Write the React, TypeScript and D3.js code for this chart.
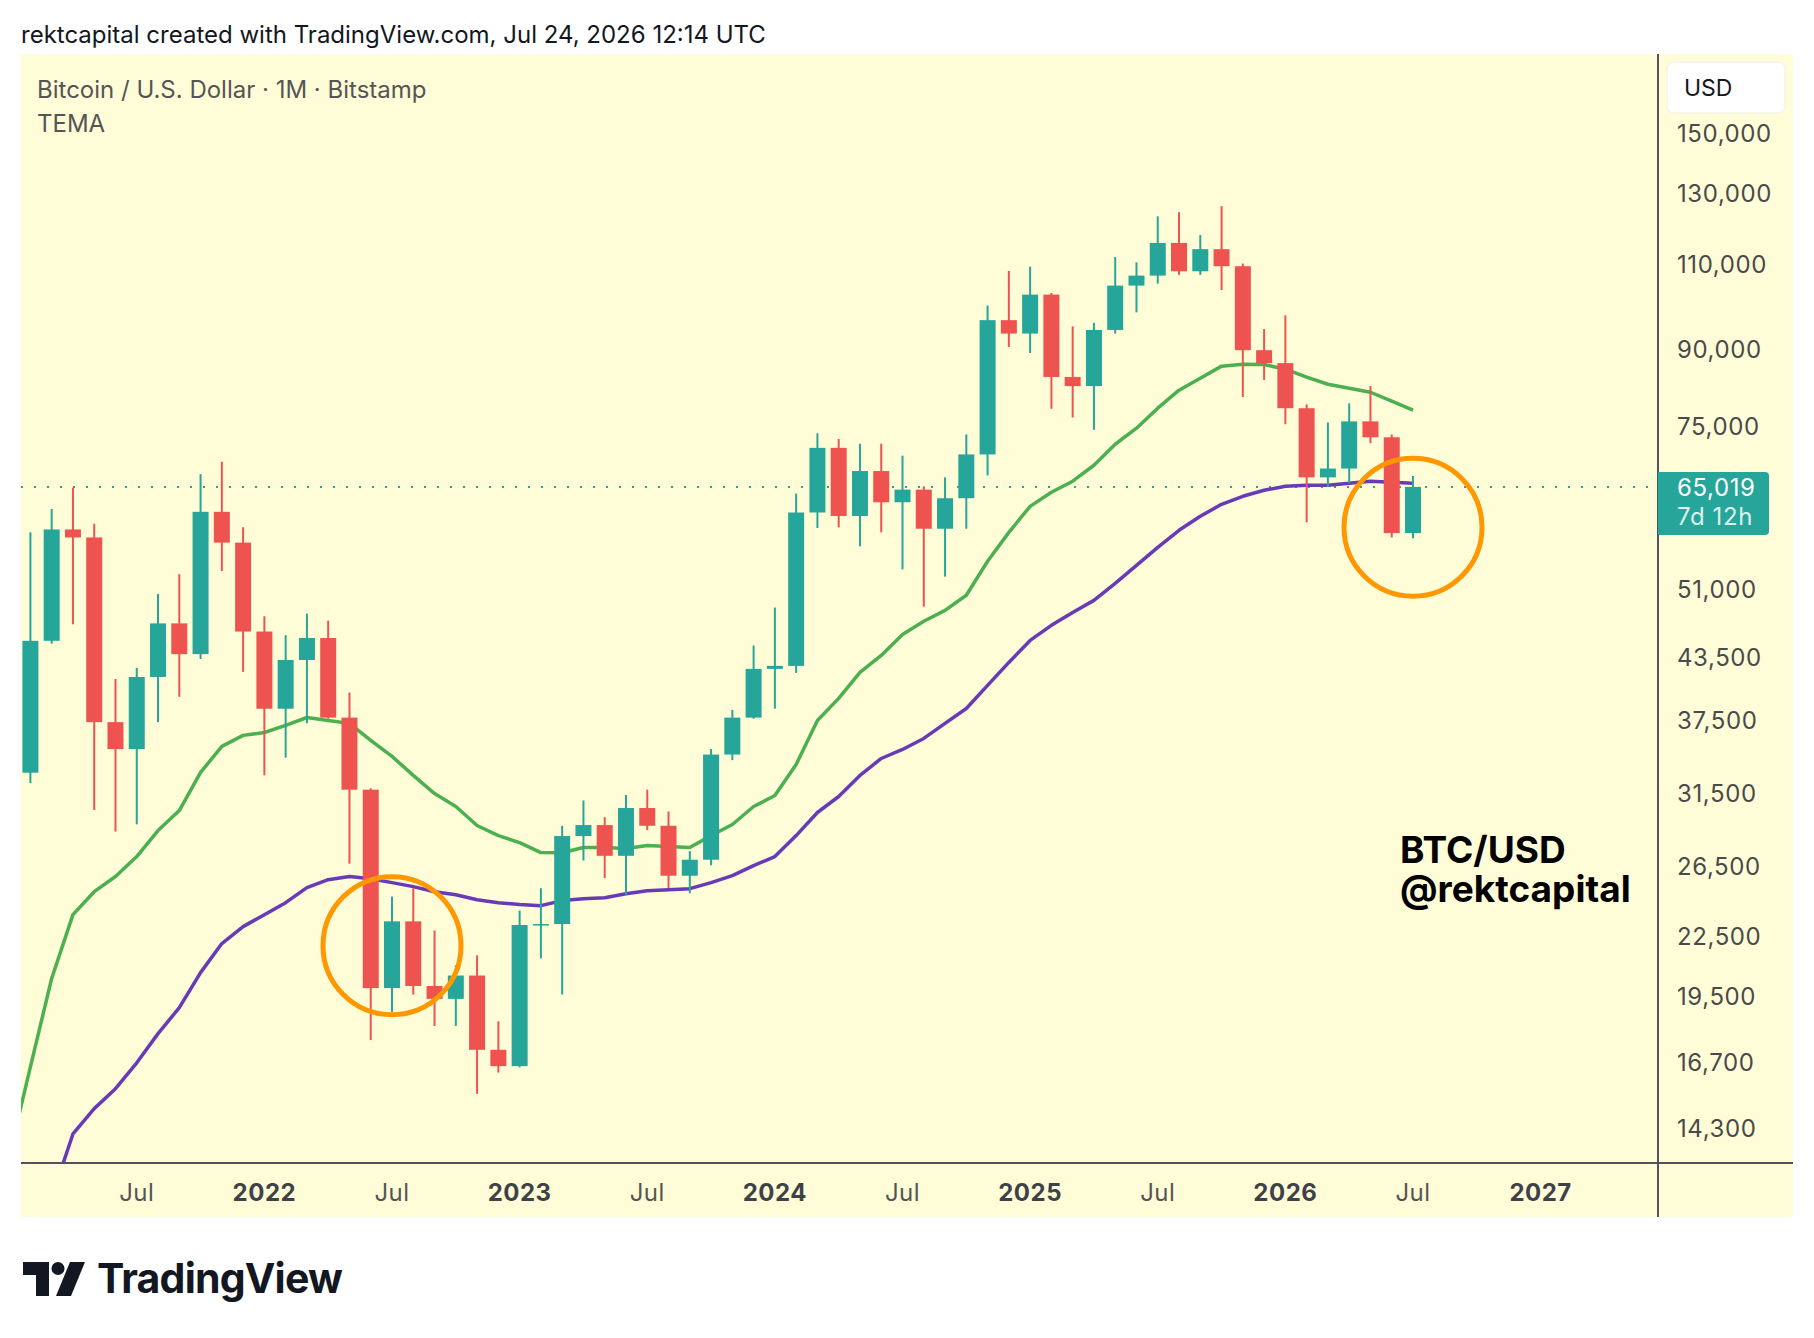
import * as d3 from "d3";

// monthly candles, Jan 2021 .. Jul 2026 (Bitstamp BTC/USD)
const months = [
  "2021-01","2021-02","2021-03","2021-04","2021-05","2021-06","2021-07","2021-08","2021-09","2021-10","2021-11","2021-12",
  "2022-01","2022-02","2022-03","2022-04","2022-05","2022-06","2022-07","2022-08","2022-09","2022-10","2022-11","2022-12",
  "2023-01","2023-02","2023-03","2023-04","2023-05","2023-06","2023-07","2023-08","2023-09","2023-10","2023-11","2023-12",
  "2024-01","2024-02","2024-03","2024-04","2024-05","2024-06","2024-07","2024-08","2024-09","2024-10","2024-11","2024-12",
  "2025-01","2025-02","2025-03","2025-04","2025-05","2025-06","2025-07","2025-08","2025-09","2025-10","2025-11","2025-12",
  "2026-01","2026-02","2026-03","2026-04","2026-05","2026-06","2026-07",
];
const open = [
  29000,33100,45200,58800,57700,37300,35000,41500,47100,43800,61300,57000,
  46200,38500,43200,45500,37700,31800,19900,23300,20000,19400,20500,17200,
  16550,23100,23150,28500,29250,27200,30450,29200,25950,26950,34550,37700,
  42300,42600,61200,71300,60700,67500,62700,64600,58900,63300,70200,96400,
  93400,102400,84300,82500,94200,104600,107100,115700,108200,114000,109500,89800,
  87100,78300,66500,67900,75900,73100,58300,
];
const high = [
  41900,58400,61700,64900,59600,41300,42400,50500,52900,67000,69000,59100,
  47900,45800,48200,47400,40000,31900,24700,25200,22800,21000,21500,18400,
  23900,25200,29200,31000,29800,31400,31800,30200,27500,35000,38400,44700,
  48900,64000,73800,72800,72000,72000,70000,65100,66500,73600,99800,108300,
  109400,102800,95000,95800,111900,110500,123200,124400,117900,126200,110200,94400,
  97500,79000,75700,79200,82500,73600,66700,
];
const low = [
  28100,32300,44900,47000,30300,28800,29300,37300,39600,43300,53300,42000,
  32900,34300,37200,37600,26700,17600,18800,19600,18200,18200,15500,16300,
  16500,21350,19600,26900,25800,24800,28900,25200,24900,26600,34100,37600,
  38500,41900,59000,59100,56500,58400,53500,49000,52600,58900,66800,90500,
  89200,78200,76600,74400,93400,98200,105100,107300,107300,103500,80400,83700,
  75400,59800,65000,65600,72100,57700,57600,
];
const close = [
  33100,45200,58800,57700,37300,35000,41500,47100,43800,61300,57000,46200,
  38500,43200,45500,37700,31800,19900,23300,20000,19400,20500,17200,16550,
  23100,23150,28500,29250,27200,30450,29200,25950,26950,34550,37700,42300,
  42600,61200,71300,60700,67500,62700,64600,58900,63300,70200,96400,93400,
  102400,84300,82500,94200,104600,107100,115700,108200,114000,109500,89800,87100,
  78300,66500,67900,75900,73100,58300,65019,
];

// TEMA overlays
const temaFast = [
  13370,16520,20360,23670,24990,25900,27150,28870,30270,33120,35220,36150,
  36400,37010,37710,37450,37190,35720,34400,32890,31510,30560,29220,28530,
  28060,27410,27400,27740,27740,27670,27870,27800,27740,28530,29290,30560,
  31360,33750,37450,39450,41950,43670,45890,47330,48570,50330,54540,58400,
  62100,64200,65900,68430,71910,74690,78300,81700,84060,86480,86880,86800,
  85860,84250,82860,82080,81310,79600,77930,
];
const temaSlow = [
  9800,11350,12130,14100,14970,15690,16680,17870,19000,20640,22110,23010,
  23670,24350,25230,25710,25900,25770,25530,25290,24990,24810,24520,24350,
  24240,24180,24470,24580,24640,24870,25050,25110,25170,25530,25960,26580,
  27150,28530,30130,31290,32890,34230,34970,35890,37190,38520,40680,42950,
  45240,46880,48330,49730,51770,54020,56370,58680,60660,62400,63590,64500,
  65120,65270,65270,65580,65900,65740,65580,
];

const priceTicks = [150000, 130000, 110000, 90000, 75000, 51000, 43500, 37500, 31500, 26500, 22500, 19500, 16700, 14300];
const timeTicks = [
  { i: 6, label: "Jul", year: false },
  { i: 12, label: "2022", year: true },
  { i: 18, label: "Jul", year: false },
  { i: 24, label: "2023", year: true },
  { i: 30, label: "Jul", year: false },
  { i: 36, label: "2024", year: true },
  { i: 42, label: "Jul", year: false },
  { i: 48, label: "2025", year: true },
  { i: 54, label: "Jul", year: false },
  { i: 60, label: "2026", year: true },
  { i: 66, label: "Jul", year: false },
  { i: 72, label: "2027", year: true },
];
// highlighted zones: month index + price at centre
const rings = [
  { i: 18, price: 22000 },
  { i: 66, price: 59100 },
];
const lastPrice = 65019;

const W = 1814, H = 1338;
const paneL = 21, paneR = 1658, paneT = 54, paneB = 1163, chartB = 1217, chartR = 1793;
const FONT = "Inter, 'Noto Sans', sans-serif";
const UP = "#26a69a", DOWN = "#ef5350", BG = "#fffdd8", AXIS = "#50535e";

export default function App() {
  const x = d3.scaleLinear().domain([0, 66]).range([9.13, 1413]);
  const y = d3.scaleLog().domain([14300, 150000]).range([1128, 133]);
  const bodyW = 16;

  const line = (vals: number[]) =>
    d3.line<number>().x((_, i) => x(i)).y(v => y(v))(vals) ?? "";

  return (
    <svg width={W} height={H} style={{ position: "absolute", left: 0, top: 0, background: "#fff" }}
      fontFamily={FONT}>
      <defs>
        <clipPath id="pane">
          <rect x={paneL} y={paneT} width={paneR - paneL} height={paneB - paneT} />
        </clipPath>
      </defs>

      <text x={21} y={43} fontSize={24} fill="#131722">
        rektcapital created with TradingView.com, Jul 24, 2026 12:14 UTC
      </text>

      {/* chart background */}
      <rect x={paneL} y={paneT} width={chartR - paneL} height={chartB - paneT} fill={BG} />

      <text x={37} y={98} fontSize={24} fill="#555">Bitcoin / U.S. Dollar · 1M · Bitstamp</text>
      <text x={37} y={132} fontSize={24} fill="#555">TEMA</text>

      <g clipPath="url(#pane)">
        <line x1={paneL} x2={paneR} y1={y(lastPrice)} y2={y(lastPrice)}
          stroke={UP} strokeWidth={2} strokeDasharray="2 11" />

        <path d={line(temaFast)} fill="none" stroke="#4caf50" strokeWidth={3.5} strokeLinejoin="round" />
        <path d={line(temaSlow)} fill="none" stroke="#673ab7" strokeWidth={3.5} strokeLinejoin="round" />

        {months.map((m, i) => {
          const up = close[i] >= open[i];
          const col = up ? UP : DOWN;
          const top = y(Math.max(open[i], close[i]));
          const bot = y(Math.min(open[i], close[i]));
          return (
            <g key={m}>
              <line x1={x(i)} x2={x(i)} y1={y(high[i])} y2={y(low[i])} stroke={col} strokeWidth={2} />
              <rect x={x(i) - bodyW / 2} y={top} width={bodyW} height={Math.max(bot - top, 1.5)} fill={col} />
            </g>
          );
        })}

        {rings.map(r => (
          <circle key={r.i} cx={x(r.i)} cy={y(r.price)} r={69} fill="none" stroke="#ff9800" strokeWidth={5} />
        ))}
      </g>

      <text x={1400} y={863} fontSize={37} fontWeight={700} fill="#000">
        <tspan x={1400}>BTC/USD</tspan>
        <tspan x={1400} dy={39}>@rektcapital</tspan>
      </text>

      {/* axes frame */}
      <line x1={paneR} x2={paneR} y1={paneT} y2={chartB} stroke={AXIS} strokeWidth={2} />
      <line x1={paneL} x2={chartR} y1={paneB} y2={paneB} stroke={AXIS} strokeWidth={2} />

      {/* price axis */}
      <rect x={1667} y={62} width={118} height={51} rx={7} fill="#fff" stroke="#f1f1e4" />
      <text x={1684} y={96} fontSize={23} fill="#131722">USD</text>
      {priceTicks.map(p => (
        <text key={p} x={1677} y={y(p)} dy="0.36em" fontSize={24} letterSpacing={0.6} fill="#4a4a4a">
          {d3.format(",")(p)}
        </text>
      ))}
      <path d={`M${paneR},${y(lastPrice) - 15} H1765 a4,4 0 0 1 4,4 V${y(lastPrice) + 44} a4,4 0 0 1 -4,4 H${paneR} Z`}
        fill={UP} />
      <text x={1677} y={y(lastPrice)} dy="0.36em" fontSize={24} letterSpacing={0.6} fill="#fff">
        {d3.format(",")(lastPrice)}
      </text>
      <text x={1677} y={y(lastPrice) + 29} dy="0.36em" fontSize={24} letterSpacing={0.6} fill="#fff" fillOpacity={0.85}>
        7d 12h
      </text>

      {/* time axis */}
      {timeTicks.map(t => (
        <text key={t.i} x={x(t.i)} y={1192} dy="0.36em" textAnchor="middle" fontSize={24} letterSpacing={0.5}
          fontWeight={t.year ? 700 : 400} fill={t.year ? "#3f4148" : "#555"}>
          {t.label}
        </text>
      ))}

      {/* TradingView logo */}
      <g transform="translate(23,1262)" fill="#131722">
        <path d="M0,0 H26 V34 H13 V13 H0 Z" />
        <circle cx={35} cy={6.5} r={6.5} />
        <path d="M47,0 H62 L48,34 H33 Z" />
      </g>
      <text x={97} y={1293} fontSize={41} fontWeight={700} fill="#131722" letterSpacing={-0.8}>TradingView</text>
    </svg>
  );
}
